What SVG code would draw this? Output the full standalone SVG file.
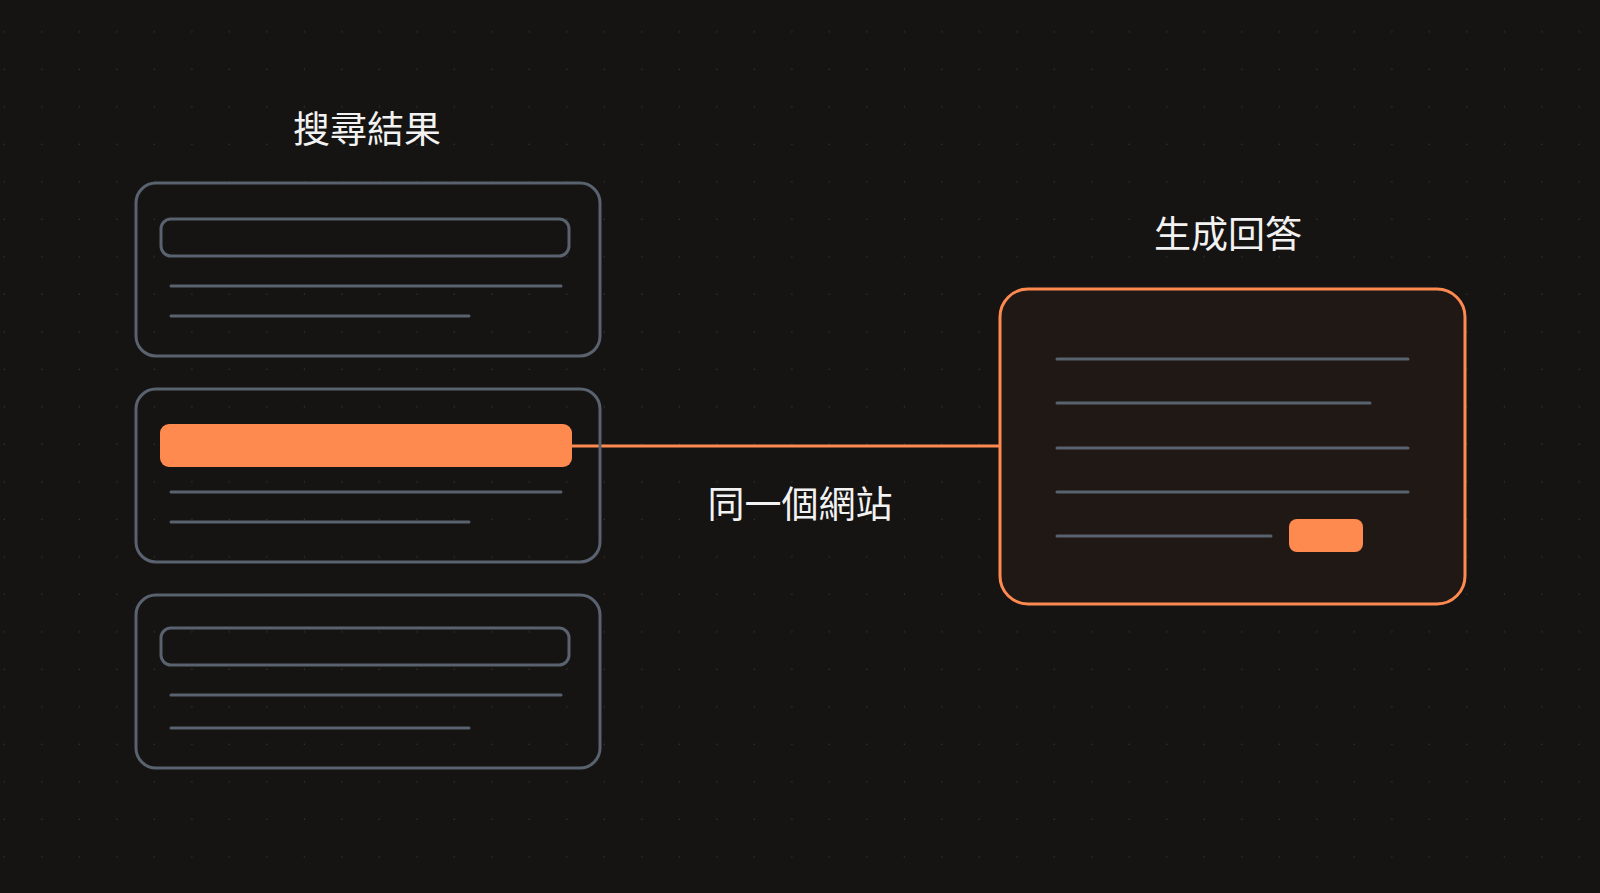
<svg xmlns="http://www.w3.org/2000/svg" width="1600" height="893" viewBox="0 0 1600 893">
<style>
.t{font-family:"Noto Sans CJK TC","Noto Sans CJK SC",sans-serif;font-size:37px;fill:#f2f2f2;text-anchor:middle;dominant-baseline:central}
.box{fill:none;stroke:#59626f;stroke-width:3}
.ln{stroke:#59626f;stroke-width:3;stroke-linecap:round}
.or{fill:#ff8a50}
</style>
<defs><pattern id="d" x="5" y="-5" width="37.5" height="37.5" patternUnits="userSpaceOnUse"><circle cx="37.5" cy="37.5" r="1.4" fill="#34302e"/></pattern></defs>
<rect width="1600" height="893" fill="#161413"/>
<rect width="1600" height="893" fill="url(#d)"/>
<text class="t" x="367" y="127">搜尋結果</text>
<text class="t" x="1228" y="232">生成回答</text>
<g id="connectors"><line x1="572" y1="446" x2="1000" y2="446" stroke="#ff8a50" stroke-width="3"/></g>
<text class="t" x="800" y="502">同一個網站</text>
<g id="r1"><rect class="box" x="136" y="183" width="464" height="173" rx="20"/><rect class="box" x="161" y="219" width="408" height="37" rx="10"/><line class="ln" x1="171" y1="286" x2="561" y2="286"/><line class="ln" x1="171" y1="316" x2="469" y2="316"/></g>
<g id="r2"><rect class="box" x="136" y="389" width="464" height="173" rx="20"/><rect class="or" x="160" y="424" width="412" height="43" rx="9"/><line class="ln" x1="171" y1="492" x2="561" y2="492"/><line class="ln" x1="171" y1="522" x2="469" y2="522"/></g>
<g id="r3"><rect class="box" x="136" y="595" width="464" height="173" rx="20"/><rect class="box" x="161" y="628" width="408" height="37" rx="10"/><line class="ln" x1="171" y1="695" x2="561" y2="695"/><line class="ln" x1="171" y1="728" x2="469" y2="728"/></g>
<g id="answer"><rect x="1000" y="289" width="465" height="315" rx="28" fill="#1f1815" stroke="#ff8a50" stroke-width="3"/>
<line class="ln" x1="1057" y1="359" x2="1408" y2="359"/><line class="ln" x1="1057" y1="403" x2="1370" y2="403"/><line class="ln" x1="1057" y1="448" x2="1408" y2="448"/><line class="ln" x1="1057" y1="492" x2="1408" y2="492"/><line class="ln" x1="1057" y1="536" x2="1271" y2="536"/>
<rect class="or" x="1289" y="519" width="74" height="33" rx="8"/></g>
</svg>
